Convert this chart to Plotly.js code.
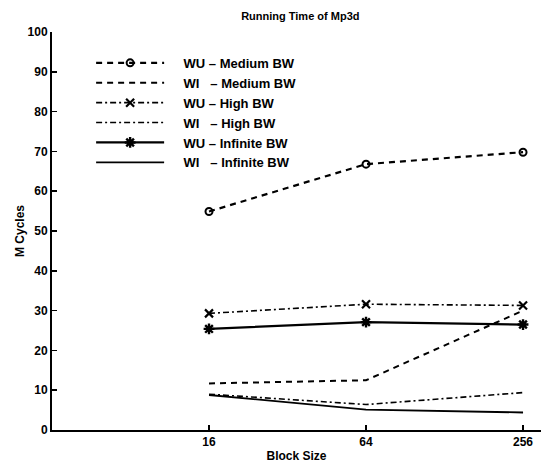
<!DOCTYPE html>
<html>
<head>
<meta charset="utf-8">
<script src="https://cdn.plot.ly/plotly-3.0.1.min.js"></script>
<style>html,body{margin:0;padding:0;background:#fff;}#chart{width:546px;height:466px;}</style>
</head>
<body>
<div id="chart"></div>
<script>
const blockSizes = [16, 64, 256];
const tickLabels = ['16', '64', '256'];
const wuMedium = [54.9, 66.8, 69.8];
const wiMedium = [11.7, 12.5, 30.0];
const wuHigh = [29.3, 31.6, 31.3];
const wiHigh = [9.0, 6.4, 9.4];
const wuInfinite = [25.4, 27.1, 26.5];
const wiInfinite = [8.8, 5.1, 4.4];
const seriesNames = ['WU \u2013 Medium BW', 'WI \u00a0\u00a0\u2013 Medium BW', 'WU \u2013 High BW', 'WI \u00a0\u00a0\u2013 High BW', 'WU \u2013 Infinite BW', 'WI \u00a0\u00a0\u2013 Infinite BW'];

const FONT = 'Liberation Sans, Arial, sans-serif';
const pad = '\u00a0\u00a0\u00a0\u00a0';
const traces = [
  {x: blockSizes, y: wuMedium, name: pad + seriesNames[0], mode: 'lines+markers',
   line: {color: '#000', width: 2.2, dash: '6px,5px'},
   marker: {symbol: 'circle-open', size: 7, color: '#000', line: {width: 2}}},
  {x: blockSizes, y: wiMedium, name: pad + seriesNames[1], mode: 'lines',
   line: {color: '#000', width: 2, dash: '6px,5px'}},
  {x: blockSizes, y: wuHigh, name: pad + seriesNames[2], mode: 'lines+markers',
   line: {color: '#000', width: 1.6, dash: '6px,3px,2px,3px'},
   marker: {symbol: 'x-thin-open', size: 8, color: '#000', line: {width: 2.2}}},
  {x: blockSizes, y: wiHigh, name: pad + seriesNames[3], mode: 'lines',
   line: {color: '#000', width: 1.6, dash: '6px,3px,2px,3px'}},
  {x: blockSizes, y: wuInfinite, name: pad + seriesNames[4], mode: 'lines+markers',
   line: {color: '#000', width: 2.2},
   marker: {symbol: 'asterisk-open', size: 9, color: '#000', line: {width: 2.4}}},
  {x: blockSizes, y: wiInfinite, name: pad + seriesNames[5], mode: 'lines',
   line: {color: '#000', width: 1.8}}
];

const layout = {
  width: 546, height: 466,
  margin: {l: 52, r: 5, t: 32, b: 36},
  paper_bgcolor: '#fff', plot_bgcolor: '#fff',
  font: {family: FONT, size: 12, color: '#000', weight: 'bold'},
  title: {text: 'Running Time of Mp3d', x: 0.55, xanchor: 'center', y: 0.965, yanchor: 'middle',
          font: {family: FONT, size: 11, color: '#000', weight: 'bold'}},
  xaxis: {type: 'log', range: [Math.log10(4), Math.log10(300)],
          tickvals: blockSizes, ticktext: tickLabels,
          ticks: 'inside', ticklen: 5, tickwidth: 1.5, tickcolor: '#000',
          showline: true, linecolor: '#000', linewidth: 2, showgrid: false, zeroline: false,
          tickfont: {family: FONT, size: 12, color: '#000', weight: 'bold'},
          title: {text: 'Block Size', standoff: 3, font: {family: FONT, size: 12, color: '#000', weight: 'bold'}}},
  yaxis: {range: [0, 100], dtick: 10, tick0: 0,
          ticks: 'inside', ticklen: 5, tickwidth: 1.5, tickcolor: '#000',
          showline: true, linecolor: '#000', linewidth: 2, showgrid: false, zeroline: false,
          tickfont: {family: FONT, size: 12, color: '#000', weight: 'bold'},
          title: {text: 'M Cycles', standoff: 0, font: {family: FONT, size: 12, color: '#000', weight: 'bold'}}},
  legend: {x: 0.08, y: 0.96, xanchor: 'left', yanchor: 'top', itemwidth: 68,
           bgcolor: 'rgba(0,0,0,0)', borderwidth: 0, tracegroupgap: 0,
           font: {family: FONT, size: 13, color: '#000', weight: 'bold'}},
  showlegend: true
};

Plotly.newPlot('chart', traces, layout, {displayModeBar: false, staticPlot: true});
</script>
</body>
</html>
